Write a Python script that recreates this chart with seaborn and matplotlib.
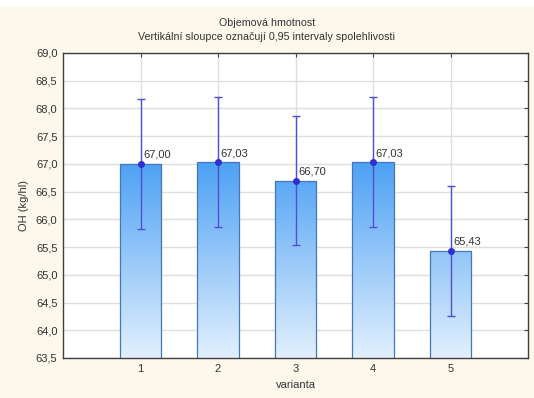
import numpy as np
import pandas as pd
import matplotlib
matplotlib.use("Agg")
import matplotlib.pyplot as plt
import seaborn as sns
from matplotlib.colors import LinearSegmentedColormap
from matplotlib.ticker import FuncFormatter, MultipleLocator

# data
categories = ["1", "2", "3", "4", "5"]
means = [67.00, 67.03, 66.70, 67.03, 65.43]
ci_low = [65.82, 65.86, 65.53, 65.86, 64.26]
ci_high = [68.17, 68.20, 67.87, 68.20, 66.60]
value_labels = ["67,00", "67,03", "66,70", "67,03", "65,43"]

title = "Objemová hmotnost\nVertikální sloupce označují 0,95 intervaly spolehlivosti"
xlabel = "varianta"
ylabel = "OH (kg/hl)"

df = pd.DataFrame({"varianta": categories, "OH": means})

sns.set_style("white")
plt.rcParams["font.family"] = ["Liberation Sans", "DejaVu Sans"]

bg = "#fdf8ec"
fig = plt.figure(figsize=(5.34, 3.98), dpi=100, facecolor=bg)
# white strip on top
fig.patches.append(plt.Rectangle((0, 1 - 7 / 398), 1, 7 / 398, transform=fig.transFigure,
                                 facecolor="white", edgecolor="none", zorder=0))
ax = fig.add_axes([63 / 534, 40 / 398, 465 / 534, 305 / 398])
ax.set_facecolor("white")

sns.barplot(data=df, x="varianta", y="OH", errorbar=None, width=0.53,
            color="#7ab8f5", edgecolor="#4577b8", linewidth=0.9, ax=ax, zorder=2)

ymin, ymax = 63.5, 69.0

# gradient fill clipped to bars
cmap = LinearSegmentedColormap.from_list("g", ["#e2f0fd", "#4a9ff4"])
grad = np.linspace(0, 1, 256).reshape(-1, 1)
for bar in ax.patches:
    bar.set_facecolor("none")
    x0 = bar.get_x()
    w = bar.get_width()
    im = ax.imshow(grad, cmap=cmap, origin="lower", aspect="auto",
                   extent=[x0, x0 + w, 63.5, 67.1], zorder=1.5, interpolation="bilinear")
    im.set_clip_path(bar)
ax.set_xlim(-1, 5)
ax.set_ylim(ymin, ymax)

xs = np.arange(len(categories))
m = np.array(means)
yerr = np.vstack([m - np.array(ci_low), np.array(ci_high) - m])
ax.errorbar(xs, m, yerr=yerr, fmt="o", color="#2f2fd0", ecolor="#4f4fd6",
            elinewidth=1.0, capsize=3, capthick=1.0, markersize=4, zorder=4)

for x, y, lab in zip(xs, means, value_labels):
    ax.annotate(lab, (x, y), xytext=(2, 3), textcoords="offset points",
                ha="left", va="bottom", fontsize=8, color="#333333", zorder=5)

ax.yaxis.set_major_locator(MultipleLocator(0.5))
ax.yaxis.set_major_formatter(FuncFormatter(lambda v, p: f"{v:.1f}".replace(".", ",")))
ax.grid(True, color="#dedede", linewidth=1.0, zorder=0)
ax.set_axisbelow(True)
for s in ax.spines.values():
    s.set_visible(True)
    s.set_color("#404040")
    s.set_linewidth(1.0)
ax.tick_params(axis="both", direction="in", length=3, width=0.8, color="#404040",
               labelsize=8, labelcolor="#333333", top=True, right=True, pad=4)
ax.set_xlabel(xlabel, fontsize=8, color="#333333", labelpad=5)
ax.set_ylabel(ylabel, fontsize=8, color="#333333", labelpad=5)

fig.text(0.5, 0.955, title, ha="center", va="top", fontsize=7.7, color="#333333",
         linespacing=1.5)

fig.savefig("out.png", dpi=100, facecolor=bg)
